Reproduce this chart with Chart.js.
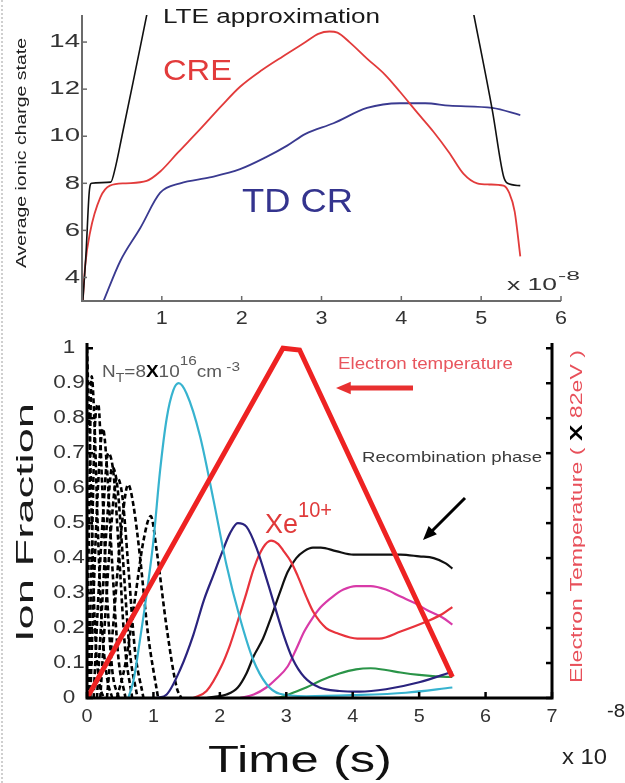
<!DOCTYPE html>
<html>
<head>
<meta charset="utf-8">
<script src="https://cdn.jsdelivr.net/npm/chart.js@4.4.1/dist/chart.umd.min.js"></script>
<style>
  body { margin: 0; background: #fff; }
  #wrap { position: relative; width: 625px; height: 783px; overflow: hidden; background: #fff; }
  canvas { position: absolute; left: 0; }
  #top { top: 0; }
  #bot { top: 330px; }
  .edge { position: absolute; left: 1px; top: 0; height: 783px; border-left: 2px dotted #cfcfcf; }
</style>
</head>
<body>
<div id="wrap">
  <div class="edge"></div>
  <canvas id="top" width="625" height="330"></canvas>
  <canvas id="bot" width="625" height="453"></canvas>
</div>
<script>
// ---- top panel: average ionic charge state (time in 1e-8 s)
const topXTicks = [1, 2, 3, 4, 5, 6];
const topYTicks = [4, 6, 8, 10, 12, 14];

const lteLeftX = [0.01, 0.05, 0.09, 0.12, 0.36, 0.42, 0.5, 0.64, 0.82];
const lteLeftY = [3, 5, 7.6, 8.0, 8.05, 8.7, 10.0, 12.3, 15.3];
const lteRightX = [4.9, 5.14, 5.28, 5.33, 5.49];
const lteRightY = [15.3, 11.1, 8.3, 8.0, 7.9];

const creX = [0.01, 0.04, 0.1, 0.23, 0.35, 0.55, 0.81, 0.98, 1.2, 1.48, 1.75, 1.98, 2.25, 2.52, 2.8, 2.96, 3.1, 3.2, 3.35, 3.57, 3.8, 3.98, 4.2, 4.4, 4.6, 4.78, 4.95, 5.1, 5.28, 5.35, 5.42, 5.49];
const creY = [3, 4.5, 5.9, 7.4, 7.9, 8.0, 8.1, 8.5, 9.3, 10.3, 11.3, 12.1, 12.8, 13.4, 14.0, 14.35, 14.45, 14.4, 14.0, 13.3, 12.6, 11.9, 11.0, 10.2, 9.3, 8.4, 8.0, 7.95, 7.9, 7.6, 6.8, 4.9];

const tdX = [0.27, 0.48, 0.73, 0.98, 1.23, 1.6, 1.98, 2.3, 2.57, 2.8, 3.15, 3.57, 3.98, 4.3, 4.6, 5.14, 5.49];
const tdY = [3, 4.7, 6.1, 7.6, 8.0, 8.25, 8.6, 9.1, 9.6, 10.1, 10.55, 11.2, 11.4, 11.4, 11.3, 11.2, 10.9];

// ---- bottom panel: ion fractions and electron temperature
const botXTicks = [0, 1, 2, 3, 4, 5, 6, 7];
const botYTicks = [0, 0.1, 0.2, 0.3, 0.4, 0.5, 0.6, 0.7, 0.8, 0.9, 1];
const botYLabels = ['0', '0.1', '0.2', '0.3', '0.4', '0.5', '0.6', '0.7', '0.8', '0.9', '1'];

const tempX = [0, 2.95, 3.2, 5.5];
const tempY = [0, 1.0, 0.995, 0.06];

// low charge states (dashed)
const dashX = [
  [0, 0.04, 0.08, 0.12, 0.18, 0.25],
  [0, 0.03, 0.07, 0.11, 0.16, 0.22, 0.3, 0.38],
  [0.02, 0.07, 0.12, 0.17, 0.23, 0.3, 0.38, 0.48],
  [0.05, 0.1, 0.17, 0.24, 0.3, 0.38, 0.47, 0.58],
  [0.1, 0.16, 0.24, 0.32, 0.4, 0.48, 0.57, 0.68],
  [0.15, 0.22, 0.3, 0.38, 0.46, 0.54, 0.64, 0.76],
  [0.2, 0.28, 0.36, 0.45, 0.53, 0.62, 0.72, 0.85],
  [0.3, 0.4, 0.5, 0.62, 0.7, 0.8, 0.92, 1.07],
  [0.45, 0.58, 0.72, 0.85, 0.96, 1.05, 1.2, 1.35, 1.42]
];
const dashY = [
  [1.0, 0.75, 0.45, 0.2, 0.05, 0],
  [0, 0.5, 0.92, 0.8, 0.5, 0.22, 0.06, 0],
  [0, 0.4, 0.78, 0.84, 0.6, 0.3, 0.08, 0],
  [0, 0.3, 0.62, 0.77, 0.66, 0.38, 0.12, 0],
  [0, 0.25, 0.52, 0.7, 0.64, 0.42, 0.15, 0],
  [0, 0.24, 0.5, 0.66, 0.6, 0.4, 0.14, 0],
  [0, 0.25, 0.48, 0.63, 0.58, 0.38, 0.14, 0],
  [0, 0.22, 0.45, 0.61, 0.55, 0.4, 0.18, 0],
  [0, 0.1, 0.28, 0.45, 0.52, 0.42, 0.2, 0.03, 0]
];

const cyanX = [0.62, 0.7, 0.8, 0.9, 1.0, 1.1, 1.2, 1.3, 1.38, 1.5, 1.7, 1.9, 2.1, 2.3, 2.5, 2.7, 2.9, 3.3, 4.0, 4.8, 5.5];
const cyanY = [0, 0.05, 0.17, 0.3, 0.45, 0.65, 0.8, 0.88, 0.9, 0.87, 0.75, 0.57, 0.38, 0.23, 0.11, 0.04, 0.012, 0.005, 0.008, 0.015, 0.03];

const navyX = [1.05, 1.2, 1.4, 1.6, 1.76, 1.9, 2.02, 2.15, 2.27, 2.4, 2.55, 2.72, 2.96, 3.1, 3.27, 3.5, 3.8, 4.1, 4.5, 5.0, 5.5];
const navyY = [0, 0.01, 0.08, 0.18, 0.28, 0.35, 0.41, 0.47, 0.5, 0.49, 0.43, 0.33, 0.18, 0.11, 0.06, 0.03, 0.02, 0.018, 0.025, 0.045, 0.075];

const redX = [1.6, 1.8, 2.02, 2.15, 2.27, 2.4, 2.51, 2.65, 2.77, 2.88, 2.96, 3.07, 3.17, 3.3, 3.41, 3.6, 3.77, 4.07, 4.4, 4.72, 5.13, 5.35, 5.5];
const redY = [0, 0.02, 0.09, 0.15, 0.22, 0.3, 0.37, 0.43, 0.45, 0.44, 0.42, 0.39, 0.35, 0.29, 0.245, 0.2, 0.185, 0.17, 0.17, 0.19, 0.22, 0.24, 0.26];

const blackX = [1.8, 1.91, 2.1, 2.27, 2.4, 2.51, 2.65, 2.77, 2.9, 3.02, 3.15, 3.27, 3.4, 3.52, 3.75, 4.01, 4.4, 4.72, 5.0, 5.22, 5.4, 5.5];
const blackY = [0, 0.003, 0.01, 0.03, 0.07, 0.12, 0.17, 0.23, 0.3, 0.36, 0.4, 0.42, 0.43, 0.43, 0.42, 0.41, 0.41, 0.41, 0.405, 0.4, 0.385, 0.37];

const magX = [2.3, 2.51, 2.7, 2.85, 3.02, 3.15, 3.27, 3.4, 3.52, 3.7, 3.86, 4.05, 4.27, 4.5, 4.72, 4.95, 5.13, 5.35, 5.5];
const magY = [0, 0.01, 0.03, 0.055, 0.09, 0.14, 0.19, 0.23, 0.26, 0.29, 0.31, 0.32, 0.32, 0.31, 0.29, 0.27, 0.25, 0.23, 0.21];

const greenX = [2.8, 2.92, 3.1, 3.3, 3.52, 3.8, 4.05, 4.27, 4.5, 4.72, 5.0, 5.25, 5.5];
const greenY = [0, 0.003, 0.015, 0.03, 0.05, 0.07, 0.082, 0.085, 0.08, 0.073, 0.066, 0.062, 0.06];

const FONT = '"Liberation Sans", Arial, Helvetica, sans-serif';

function pts(xs, ys) {
  return xs.map((x, i) => ({ x: x, y: ys[i] }));
}

function curve(xs, ys, color, width, extra) {
  return Object.assign({
    data: pts(xs, ys),
    borderColor: color,
    borderWidth: width,
    pointRadius: 0,
    fill: false,
    tension: 0.4,
    cubicInterpolationMode: 'monotone'
  }, extra || {});
}

// text squeezed/stretched to a given width (the scanned figure is not square)
function text(ctx, s, x, y, size, w, color, rot, bold) {
  ctx.save();
  ctx.font = (bold ? 'bold ' : '') + size + 'px ' + FONT;
  ctx.fillStyle = color;
  ctx.textBaseline = 'alphabetic';
  ctx.textAlign = 'left';
  ctx.translate(x, y);
  if (rot) ctx.rotate(-Math.PI / 2);
  if (w) ctx.scale(w / ctx.measureText(s).width, 1);
  ctx.fillText(s, 0, 0);
  ctx.restore();
}

// several runs of text (sub/superscripts, colours) fitted to one width
function runs(ctx, parts, x, y, w, rot) {
  ctx.save();
  ctx.translate(x, y);
  if (rot) ctx.rotate(-Math.PI / 2);
  let sum = 0;
  parts.forEach(p => {
    ctx.font = (p.bold ? 'bold ' : '') + p.size + 'px ' + FONT;
    p.w = ctx.measureText(p.t).width;
    sum += p.w;
  });
  ctx.scale(w / sum, 1);
  let cx = 0;
  parts.forEach(p => {
    ctx.font = (p.bold ? 'bold ' : '') + p.size + 'px ' + FONT;
    ctx.fillStyle = p.color;
    ctx.fillText(p.t, cx, p.dy || 0);
    cx += p.w;
  });
  ctx.restore();
}

function label(ctx, s, x, y, size, sx, align, color) {
  ctx.save();
  ctx.font = size + 'px ' + FONT;
  ctx.fillStyle = color;
  ctx.textBaseline = 'middle';
  ctx.translate(x, y);
  ctx.scale(sx, 1);
  ctx.textAlign = align;
  ctx.fillText(s, 0, 0);
  ctx.restore();
}

function arrow(ctx, x1, y1, x2, y2, color, lw, head) {
  const a = Math.atan2(y2 - y1, x2 - x1);
  ctx.save();
  ctx.strokeStyle = color;
  ctx.fillStyle = color;
  ctx.lineWidth = lw;
  ctx.beginPath();
  ctx.moveTo(x1, y1);
  ctx.lineTo(x2 - Math.cos(a) * head * 0.8, y2 - Math.sin(a) * head * 0.8);
  ctx.stroke();
  ctx.beginPath();
  ctx.moveTo(x2, y2);
  ctx.lineTo(x2 - head * Math.cos(a - 0.4), y2 - head * Math.sin(a - 0.4));
  ctx.lineTo(x2 - head * Math.cos(a + 0.4), y2 - head * Math.sin(a + 0.4));
  ctx.closePath();
  ctx.fill();
  ctx.restore();
}

const topDeco = {
  id: 'topDeco',
  afterDraw(chart) {
    const ctx = chart.ctx, a = chart.chartArea;
    const xs = chart.scales.x, ys = chart.scales.y;
    ctx.save();
    ctx.strokeStyle = '#6b6b6b';
    ctx.lineWidth = 2;
    ctx.beginPath();
    ctx.moveTo(a.left, a.top);
    ctx.lineTo(a.left, a.bottom);
    ctx.lineTo(a.right, a.bottom);
    ctx.stroke();
    ctx.lineWidth = 1.5;
    topYTicks.forEach(v => {
      const py = ys.getPixelForValue(v);
      ctx.beginPath(); ctx.moveTo(a.left, py); ctx.lineTo(a.left + 5, py); ctx.stroke();
      label(ctx, String(v), a.left - 2, py, 19, 1.45, 'right', '#333');
    });
    topXTicks.forEach(v => {
      const px = xs.getPixelForValue(v);
      ctx.beginPath(); ctx.moveTo(px, a.bottom); ctx.lineTo(px, a.bottom - 5); ctx.stroke();
      label(ctx, String(v), px, a.bottom + 18, 18, 1.2, 'center', '#333');
    });
    ctx.restore();

    text(ctx, 'LTE approximation', 163, 23, 20, 217, '#1a1a1a');
    text(ctx, 'CRE', 163, 80, 30, 69, '#e23b3b');
    text(ctx, 'TD CR', 242, 212, 33, 111, '#34348e');
    text(ctx, 'Average ionic charge state', 26, 268, 15, 230, '#222', true);
    text(ctx, 'x 10', 507, 290, 16, 50, '#333');
    text(ctx, '-8', 558, 280, 13, 22, '#333');
  }
};

const botDeco = {
  id: 'botDeco',
  afterDraw(chart) {
    const ctx = chart.ctx, a = chart.chartArea;
    const xs = chart.scales.x, ys = chart.scales.y;
    ctx.save();
    ctx.strokeStyle = '#000';
    ctx.lineWidth = 3;
    ctx.beginPath();
    ctx.moveTo(a.left, a.top);
    ctx.lineTo(a.left, a.bottom);
    ctx.lineTo(a.right, a.bottom);
    ctx.lineTo(a.right, a.top);
    ctx.stroke();
    ctx.lineWidth = 2.5;
    botYTicks.forEach((v, i) => {
      const py = ys.getPixelForValue(v);
      ctx.beginPath(); ctx.moveTo(a.left, py); ctx.lineTo(a.left + 6, py); ctx.stroke();
      ctx.beginPath(); ctx.moveTo(a.right, py); ctx.lineTo(a.right - 6, py); ctx.stroke();
      label(ctx, botYLabels[i], 69, py, 18, 1.25, 'center', '#333');
    });
    botXTicks.forEach(v => {
      const px = xs.getPixelForValue(v);
      ctx.beginPath(); ctx.moveTo(px, a.bottom); ctx.lineTo(px, a.bottom - 6); ctx.stroke();
      label(ctx, String(v), px, a.bottom + 19, 18, 1.1, 'center', '#333');
    });
    ctx.restore();

    const g = '#5a5a5a';
    runs(ctx, [
      { t: 'N', size: 16, color: g },
      { t: 'T', size: 12, color: g, dy: 5 },
      { t: '=8', size: 16, color: g },
      { t: 'X', size: 16, color: '#000', bold: true },
      { t: '10', size: 16, color: g },
      { t: '16', size: 13, color: g, dy: -12 },
      { t: 'cm', size: 16, color: g },
      { t: ' -3', size: 13, color: g, dy: -6 }
    ], 102, 47, 138);

    text(ctx, 'Electron temperature', 338, 39, 16, 175, '#e8555d');
    arrow(ctx, 413, 58, 336, 58, '#e83030', 5, 16);
    text(ctx, 'Recombination phase', 362, 132, 15, 180, '#3a3a3a');
    arrow(ctx, 465, 168, 423, 210, '#000', 3, 15);
    text(ctx, 'Xe', 265, 203, 28, 33, '#e03a3a');
    text(ctx, '10+', 298, 187, 22, 34, '#e03a3a');
    text(ctx, 'Ion Fraction', 33, 312, 24, 239, '#1a1a1a', true);
    text(ctx, 'Time (s)', 208, 442, 36, 184, '#111');
    text(ctx, 'x 10', 562, 434, 22, 45, '#222');
    text(ctx, '-8', 607, 387, 18, 18, '#222');

    const r = '#e8505a';
    runs(ctx, [
      { t: 'Electron Temperature ( ', size: 16, color: r },
      { t: 'X', size: 17, color: '#000', bold: true },
      { t: ' 82eV )', size: 16, color: r }
    ], 582, 353, 333, true);
  }
};

const baseOpts = {
  responsive: false,
  animation: false,
  events: [],
  plugins: { legend: { display: false }, tooltip: { enabled: false }, title: { display: false } },
  elements: { point: { radius: 0 } }
};

new Chart(document.getElementById('top'), {
  type: 'line',
  data: {
    datasets: [
      curve(lteLeftX, lteLeftY, '#111', 1.6),
      curve(lteRightX, lteRightY, '#111', 1.6),
      curve(creX, creY, '#e23b3b', 1.8),
      curve(tdX, tdY, '#3a3a90', 1.8)
    ]
  },
  options: Object.assign({}, baseOpts, {
    layout: { padding: { top: 15, right: 64, left: 0, bottom: 0 } },
    scales: {
      x: {
        type: 'linear', min: 0, max: 6,
        ticks: { display: false }, grid: { display: false, drawTicks: false }, border: { display: false },
        afterFit: s => { s.height = 29; }
      },
      y: {
        type: 'linear', min: 3, max: 15.15,
        ticks: { display: false }, grid: { display: false, drawTicks: false }, border: { display: false },
        afterFit: s => { s.width = 82; }
      }
    }
  }),
  plugins: [topDeco]
});

const botSets = [
  curve(tempX, tempY, '#ee2222', 5, { tension: 0, cubicInterpolationMode: 'default', yAxisID: 'y2' })
];
[
  [cyanX, cyanY, '#37b3cf'],
  [navyX, navyY, '#2a237e'],
  [redX, redY, '#e8333c'],
  [blackX, blackY, '#111'],
  [magX, magY, '#d83aa8'],
  [greenX, greenY, '#2a9448']
].forEach(c => botSets.push(curve(c[0], c[1], c[2], 2.2)));
dashX.forEach((xs, i) => botSets.push(curve(xs, dashY[i], '#000', 2.6, { borderDash: [5, 3] })));

new Chart(document.getElementById('bot'), {
  type: 'line',
  data: { datasets: botSets },
  options: Object.assign({}, baseOpts, {
    layout: { padding: { top: 13, right: 73, left: 0, bottom: 0 } },
    scales: {
      x: {
        type: 'linear', min: 0, max: 7,
        ticks: { display: false }, grid: { display: false, drawTicks: false }, border: { display: false },
        afterFit: s => { s.height = 85; }
      },
      y: {
        type: 'linear', min: 0, max: 1.015,
        ticks: { display: false }, grid: { display: false, drawTicks: false }, border: { display: false },
        afterFit: s => { s.width = 87; }
      },
      y2: { type: 'linear', display: false, min: 0, max: 1.015 }
    }
  }),
  plugins: [botDeco]
});
</script>
</body>
</html>
